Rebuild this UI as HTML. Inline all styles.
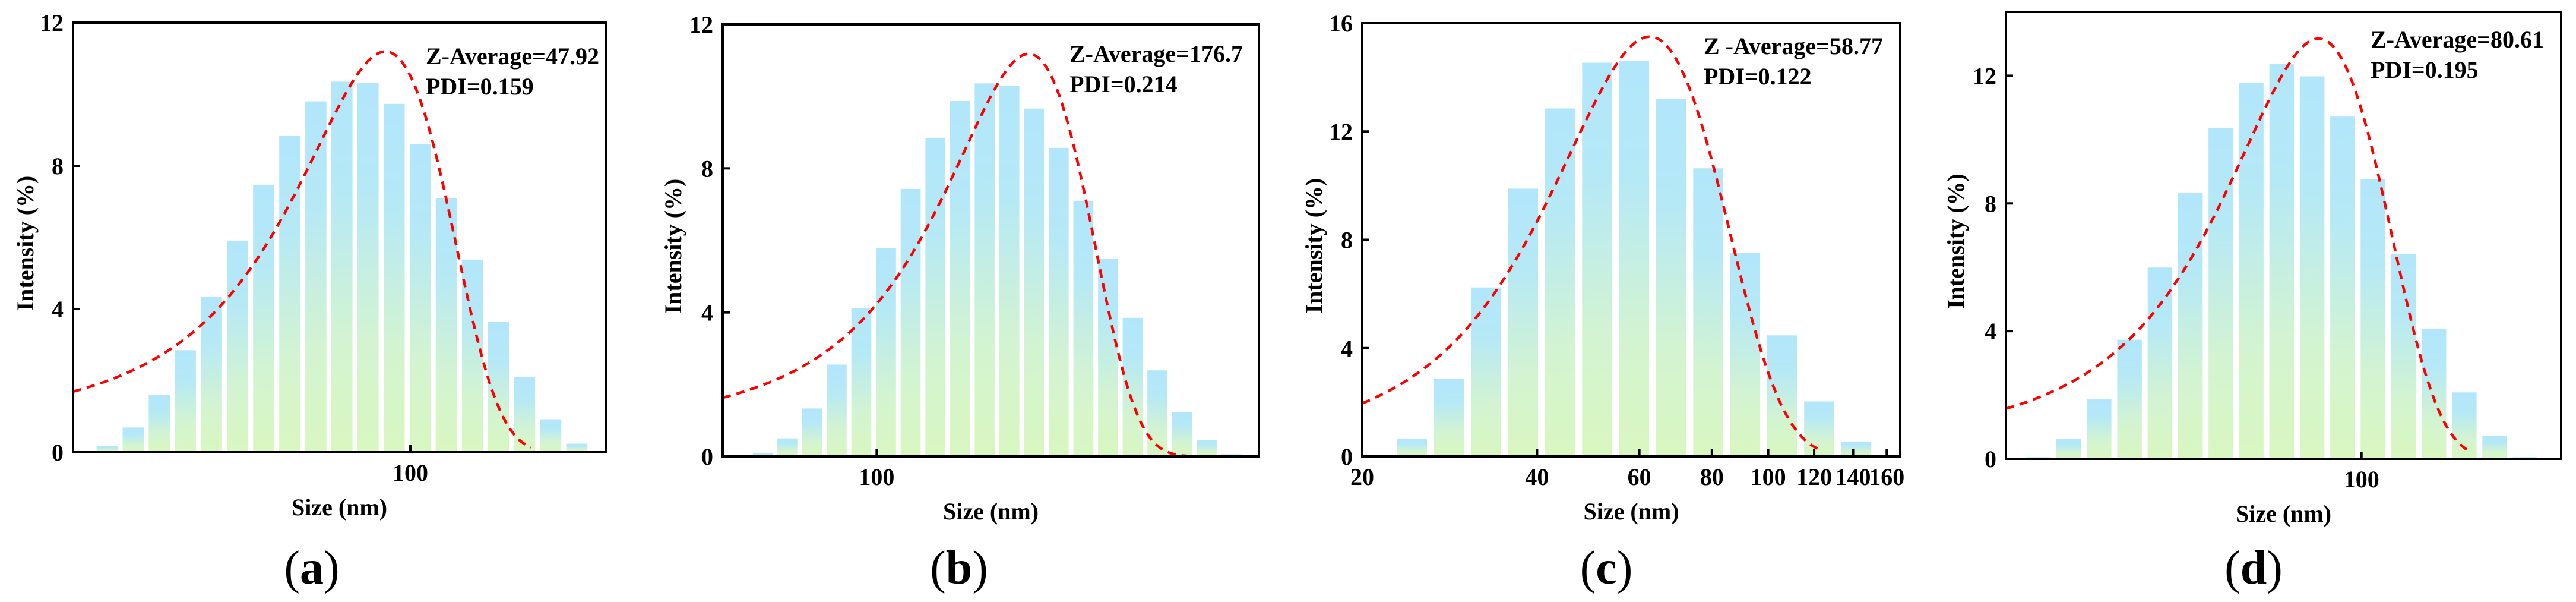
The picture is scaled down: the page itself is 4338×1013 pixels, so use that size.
<!DOCTYPE html>
<html><head><meta charset="utf-8"><style>
html,body{margin:0;padding:0;background:#fff;}
svg{display:block;}
text{font-family:"Liberation Serif",serif;fill:#000;}
</style></head><body>
<svg id="fig" width="4338" height="1013" viewBox="0 0 4338 1013" xmlns="http://www.w3.org/2000/svg">
<defs>
<linearGradient id="barGrad" x1="0" y1="0" x2="0" y2="1">
<stop offset="0" stop-color="#b2e6fb"/>
<stop offset="0.3" stop-color="#b6e9f6"/>
<stop offset="0.7" stop-color="#d3f4d1"/>
<stop offset="1" stop-color="#d9f7c0"/>
</linearGradient>
</defs>
</svg>
<script>
// ---- Panel (a) data ----
const binsA = [18.17,21.04,24.36,28.21,32.67,37.84,43.82,50.75,58.77,68.06,78.82,91.28,105.7,122.4,141.8,164.2,190.1,220.2,255.0];
const intensityA = [0.17,0.69,1.6,2.85,4.35,5.91,7.47,8.83,9.80,10.35,10.31,9.73,8.61,7.10,5.38,3.64,2.10,0.92,0.24];
const fitA = [11.19, 86.9, 37]; // amplitude, mean (nm), sigma (nm)
// ---- Panel (b) data ----
const binsB = [50.75,58.77,68.06,78.82,91.28,105.7,122.4,141.8,164.2,190.1,220.2,255.0,295.3,342.0,396.1,458.7,531.2,615.1,712.4,825.0];
const intensityB = [0.09,0.5,1.33,2.55,4.11,5.79,7.43,8.84,9.87,10.36,10.29,9.66,8.57,7.10,5.49,3.85,2.39,1.23,0.46,0.06];
const fitB = [11.18, 247, 105.5];
// ---- Panel (c) data ----
const binsC = [24.36,28.21,32.67,37.84,43.82,50.75,58.77,68.06,78.82,91.28,105.7,122.4,141.8];
const intensityC = [0.65,2.87,6.24,9.89,12.85,14.54,14.61,13.19,10.64,7.52,4.47,2.03,0.54];
const fitC = [15.5, 62.5, 20.9];
// ---- Panel (d) data ----
const binsD = [21.04,24.36,28.21,32.67,37.84,43.82,50.75,58.77,68.06,78.82,91.28,105.7,122.4,141.8,164.2,190.1,220.2];
const intensityD = [0.05,0.62,1.86,3.73,5.99,8.32,10.36,11.78,12.36,11.98,10.72,8.76,6.42,4.08,2.08,0.71,0.05];
const fitD = [13.16, 81.3, 30.7];
// tick labels
const yTicksA = [0,4,8,12], yTicksB = [0,4,8,12], yTicksC = [0,4,8,12,16], yTicksD = [0,4,8,12];
const xTicksA = [100], xTicksB = [100], xTicksC = [20,40,60,80,100,120,140,160], xTicksD = [100];
const zAvg = ["Z-Average=47.92","Z-Average=176.7","Z -Average=58.77","Z-Average=80.61"];
const pdi = ["PDI=0.159","PDI=0.214","PDI=0.122","PDI=0.195"];
const captions = ["a","b","c","d"];
const xDomA=[15,300], xDomB=[40,972], xDomC=[20,168.8], xDomD=[18,262];
const yMaxA=12, yMaxB=12, yMaxC=16, yMaxD=14;
const fitEndA=197, fitEndB=972, fitEndC=123, fitEndD=168;

const NS="http://www.w3.org/2000/svg";
const svg=document.getElementById('fig');
function mk(tag,attrs,parent){const e=document.createElementNS(NS,tag);for(const k in attrs)e.setAttribute(k,attrs[k]);(parent||svg).appendChild(e);return e;}

const layout=[
 {L:123,R:1020,T:38,B:761,tx:717,ty:108,cx:525,ylabX:42},
 {L:1217,R:2120,T:41,B:768,tx:1801,ty:104,cx:1615,ylabX:1133},
 {L:2294,R:3200,T:39,B:768,tx:2869,ty:91,cx:2705,ylabX:2212},
 {L:3378,R:4313,T:20,B:772,tx:3992,ty:80,cx:3795,ylabX:3293}
];
const panels=[
 {bins:binsA,vals:intensityA,fit:fitA,yt:yTicksA,xt:xTicksA,xd:xDomA,ym:yMaxA,fe:fitEndA},
 {bins:binsB,vals:intensityB,fit:fitB,yt:yTicksB,xt:xTicksB,xd:xDomB,ym:yMaxB,fe:fitEndB},
 {bins:binsC,vals:intensityC,fit:fitC,yt:yTicksC,xt:xTicksC,xd:xDomC,ym:yMaxC,fe:fitEndC},
 {bins:binsD,vals:intensityD,fit:fitD,yt:yTicksD,xt:xTicksD,xd:xDomD,ym:yMaxD,fe:fitEndD}
];

panels.forEach((p,i)=>{
 const g=layout[i];
 const grp=mk('g',{});
 
 
 const lx0=Math.log10(p.xd[0]), lx1=Math.log10(p.xd[1]);
 const xs=v=>g.L+(Math.log10(v)-lx0)/(lx1-lx0)*(g.R-g.L);
 const ys=v=>g.B-v/p.ym*(g.B-g.T);
 const clipId='clip'+i;
 const cp=mk('clipPath',{id:clipId},grp);
 mk('rect',{x:g.L,y:g.T,width:g.R-g.L,height:g.B-g.T},cp);
 // bars
 const bars=mk('g',{'clip-path':'url(#'+clipId+')'},grp);
 
 
 p.bins.forEach((s,k)=>{
  const step=xs(s*1.158)-xs(s);
  const w=step*0.81;
  const cx=xs(s);
  const r=mk('rect',{x:cx-w/2,y:ys(p.vals[k]),width:w,height:g.B-ys(p.vals[k]),fill:'url(#barGrad)'},bars);
  
  
 });
 // fit curve
 let d='';
 const n=300;
 for(let k=0;k<=n;k++){
  const lv=lx0+(Math.log10(p.fe)-lx0)*k/n;
  const v=Math.pow(10,lv);
  const y=p.fit[0]*Math.exp(-Math.pow(v-p.fit[1],2)/(2*p.fit[2]*p.fit[2]));
  d+=(k?'L':'M')+xs(v).toFixed(2)+' '+ys(y).toFixed(2);
 }
 const fc=mk('path',{d:d,fill:'none',stroke:'#ff0000','stroke-width':4.5,'stroke-dasharray':'14 10','clip-path':'url(#'+clipId+')'},grp);
 
 
 // frame
 const fr=mk('rect',{x:g.L,y:g.T,width:g.R-g.L,height:g.B-g.T,fill:'none',stroke:'#000','stroke-width':4},grp);
 
 
 // y ticks
 p.yt.forEach(t=>{
  const y=ys(t);
  if(t>0 && y>g.T+2) mk('line',{x1:g.L,x2:g.L+12,y1:y,y2:y,stroke:'#000','stroke-width':4},grp);
  const tl=mk('text',{x:g.L-16,y:y+14,'font-size':40,'font-weight':'bold','text-anchor':'end'},grp);
  tl.textContent=t;
  
  
 });
 // x ticks
 p.xt.forEach(t=>{
  const x=xs(t);
  mk('line',{x1:x,x2:x,y1:g.B,y2:g.B-12,stroke:'#000','stroke-width':4},grp);
  const tl=mk('text',{x:x,y:g.B+48,'font-size':40,'font-weight':'bold','text-anchor':'middle'},grp);
  tl.textContent=t;
  
  
 });
 // axis titles
 const xt=mk('text',{x:(g.L+g.R)/2,y:g.B+106,'font-size':40,'font-weight':'bold','text-anchor':'middle'},grp);
 xt.textContent='Size (nm)';
 
 
 const yc=(g.T+g.B)/2+10;
 const yt=mk('text',{x:0,y:0,'font-size':40,'font-weight':'bold','text-anchor':'middle',transform:'translate('+(g.ylabX+14)+','+yc+') rotate(-90)'},grp);
 yt.textContent='Intensity (%)';
 
 
 // annotation
 const a1=mk('text',{x:g.tx,y:g.ty,'font-size':40,'font-weight':'bold'},grp);
 a1.textContent=zAvg[i];
 
 
 const a2=mk('text',{x:g.tx,y:g.ty+51,'font-size':40,'font-weight':'bold'},grp);
 a2.textContent=pdi[i];
 
 
 // caption
 const c=mk('text',{x:g.cx,y:982,'font-size':80,'text-anchor':'middle'},grp);
 c.innerHTML='(<tspan font-weight="bold">'+captions[i]+'</tspan>)';
 
 
});
</script>
</body></html>
